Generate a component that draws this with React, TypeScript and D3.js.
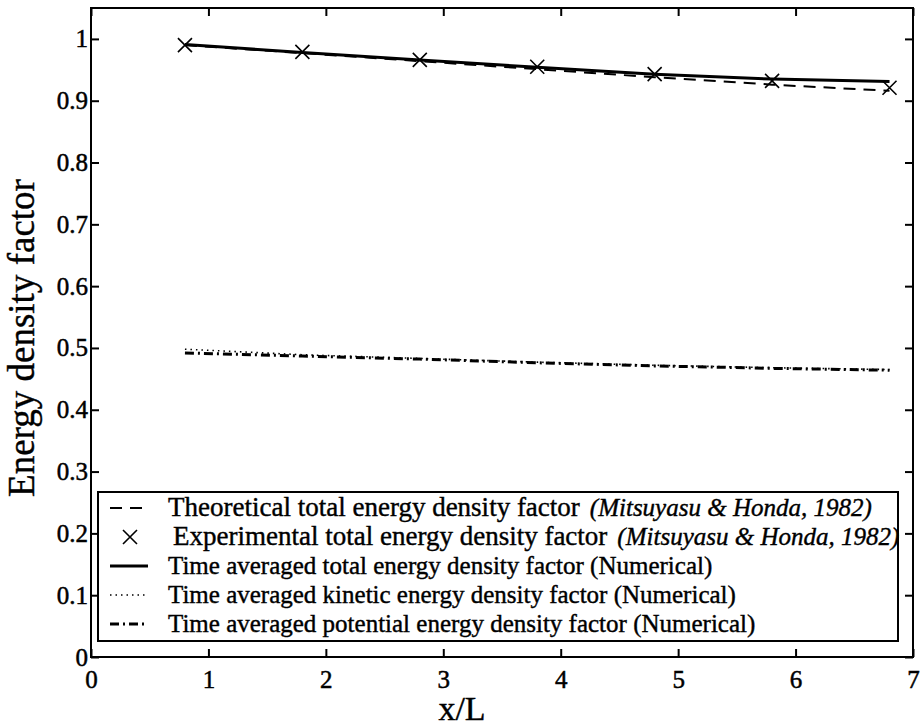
import React, { useEffect, useRef } from "react";
import * as d3 from "d3";

// x/L stations of the measurements
const xPos = [0.8, 1.8, 2.8, 3.8, 4.8, 5.8, 6.8];
const theoretical = [0.99, 0.977, 0.964, 0.951, 0.938, 0.926, 0.916];
const experimental = [0.99, 0.979, 0.966, 0.955, 0.943, 0.932, 0.921];
const numericalTotal = [0.991, 0.978, 0.966, 0.954, 0.943, 0.935, 0.931];
const kinetic = [0.498, 0.489, 0.483, 0.477, 0.472, 0.468, 0.465];
const potential = [0.492, 0.487, 0.482, 0.476, 0.471, 0.467, 0.464];

const xTicks = [0, 1, 2, 3, 4, 5, 6, 7];
const yTicks = [0, 0.1, 0.2, 0.3, 0.4, 0.5, 0.6, 0.7, 0.8, 0.9, 1];

const legendItems = [
  { label: "Theoretical total energy density factor", cite: "(Mitsuyasu & Honda, 1982)", kind: "dash" },
  { label: "Experimental total energy density factor", cite: "(Mitsuyasu & Honda, 1982)", kind: "cross" },
  { label: "Time averaged total energy density factor (Numerical)", cite: "", kind: "solid" },
  { label: "Time averaged kinetic energy density factor (Numerical)", cite: "", kind: "dot" },
  { label: "Time averaged potential energy density factor (Numerical)", cite: "", kind: "dashdot" },
];

const FONT = "'Liberation Serif', 'Times New Roman', serif";

const styles = {
  dash: { width: 2, dash: "12,8" },
  solid: { width: 3, dash: null },
  dot: { width: 1.6, dash: "1.5,4" },
  dashdot: { width: 3, dash: "9,4,2,4" },
};

const App = () => {
  const svgRef = useRef(null);

  useEffect(() => {
    document.body.style.margin = "0";
    const width = 924, height = 726;
    const m = { left: 91, right: 11, top: 8, bottom: 69 };

    const x = d3.scaleLinear().domain([0, 7]).range([m.left, width - m.right]);
    const y = d3.scaleLinear().domain([0, 1.05]).range([height - m.bottom, m.top]);

    const svg = d3.select(svgRef.current)
      .attr("width", width)
      .attr("height", height)
      .style("background", "#fff")
      .style("display", "block");
    svg.selectAll("*").remove();

    const fmt = d => (d === 0 || d === 1 ? String(d) : d3.format(".1f")(d));

    const styleAxis = g => {
      g.select(".domain").remove();
      g.selectAll("line").attr("stroke", "#000").attr("stroke-width", 2);
      g.selectAll("text")
        .attr("font-family", FONT)
        .attr("font-size", 25)
        .attr("fill", "#000")
        .attr("stroke", "#000")
        .attr("stroke-width", 0.5);
    };

    svg.append("g")
      .attr("transform", `translate(0,${height - m.bottom})`)
      .call(d3.axisBottom(x).tickValues(xTicks).tickSize(-8).tickPadding(13).tickFormat(d3.format("d")))
      .call(styleAxis);
    svg.append("g")
      .attr("transform", `translate(0,${m.top})`)
      .call(d3.axisTop(x).tickValues(xTicks).tickSize(-8).tickFormat(() => ""))
      .call(styleAxis);
    svg.append("g")
      .attr("transform", `translate(${m.left},0)`)
      .call(d3.axisLeft(y).tickValues(yTicks).tickSize(-8).tickPadding(3).tickFormat(fmt))
      .call(styleAxis);
    svg.append("g")
      .attr("transform", `translate(${width - m.right},0)`)
      .call(d3.axisRight(y).tickValues(yTicks).tickSize(-8).tickFormat(() => ""))
      .call(styleAxis);

    svg.append("rect")
      .attr("x", m.left)
      .attr("y", m.top)
      .attr("width", width - m.left - m.right)
      .attr("height", height - m.top - m.bottom)
      .attr("fill", "none")
      .attr("stroke", "#000")
      .attr("stroke-width", 2);

    const line = d3.line().x(d => x(d[0])).y(d => y(d[1]));
    const series = [
      { values: theoretical, kind: "dash" },
      { values: numericalTotal, kind: "solid" },
      { values: kinetic, kind: "dot" },
      { values: potential, kind: "dashdot" },
    ];
    series.forEach(s => {
      const st = styles[s.kind];
      svg.append("path")
        .datum(xPos.map((v, i) => [v, s.values[i]]))
        .attr("d", line)
        .attr("fill", "none")
        .attr("stroke", "#000")
        .attr("stroke-width", st.width)
        .attr("stroke-dasharray", st.dash);
    });

    const cross = (g, cx, cy, r) => {
      g.append("path")
        .attr("d", `M${cx - r},${cy - r}L${cx + r},${cy + r}M${cx - r},${cy + r}L${cx + r},${cy - r}`)
        .attr("stroke", "#000")
        .attr("stroke-width", 1.6)
        .attr("fill", "none");
    };
    const marks = svg.append("g");
    xPos.forEach((v, i) => cross(marks, x(v), y(experimental[i]), 7));

    // legend
    const lg = svg.append("g");
    lg.append("rect")
      .attr("x", 98).attr("y", 492)
      .attr("width", 800).attr("height", 149)
      .attr("fill", "#fff")
      .attr("stroke", "#000")
      .attr("stroke-width", 2);

    legendItems.forEach((it, i) => {
      const by = 516 + i * 29;
      const cy = by - 8;
      if (it.kind === "cross") {
        cross(lg, 130, cy, 7);
      } else {
        const st = styles[it.kind];
        lg.append("line")
          .attr("x1", 110).attr("x2", 148)
          .attr("y1", cy).attr("y2", cy)
          .attr("stroke", "#000")
          .attr("stroke-width", st.width)
          .attr("stroke-dasharray", st.dash);
      }
      const t = lg.append("text")
        .attr("x", it.kind === "cross" ? 173 : 168)
        .attr("y", by)
        .attr("font-family", FONT)
        .attr("font-size", it.cite ? 27 : 25)
        .attr("stroke", "#000")
        .attr("stroke-width", 0.4)
        .text(it.label);
      if (it.cite) {
        t.append("tspan")
          .attr("dx", 10)
          .attr("font-style", "italic")
          .attr("font-size", 25)
          .text(it.cite);
      }
    });

    svg.append("text")
      .attr("x", 462)
      .attr("y", 720)
      .attr("text-anchor", "middle")
      .attr("font-family", FONT)
      .attr("font-size", 34)
      .attr("stroke", "#000")
      .attr("stroke-width", 0.4)
      .text("x/L");

    svg.append("text")
      .attr("transform", "rotate(-90)")
      .attr("x", -338)
      .attr("y", 34)
      .attr("text-anchor", "middle")
      .attr("font-family", FONT)
      .attr("font-size", 37)
      .attr("stroke", "#000")
      .attr("stroke-width", 0.4)
      .text("Energy density factor");
  }, []);

  return <svg ref={svgRef}></svg>;
};

export default App;
